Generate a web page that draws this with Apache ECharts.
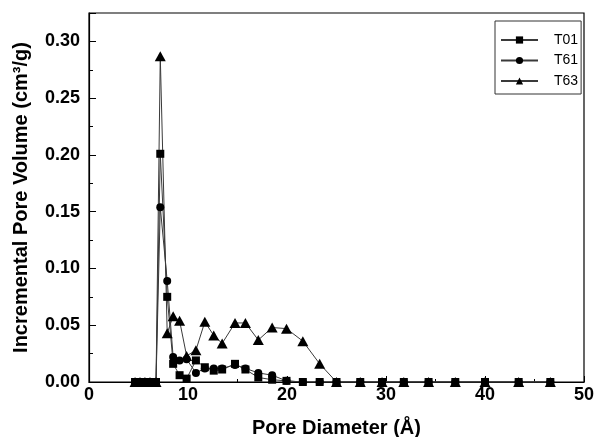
<!DOCTYPE html>
<html>
<head>
<meta charset="utf-8">
<script src="https://cdn.jsdelivr.net/npm/echarts@6/dist/echarts.min.js"></script>
<style>html,body{margin:0;padding:0;background:#fff;}#c{width:596px;height:437px;}</style>
</head>
<body>
<div id="c"></div>
<script>
// Pore diameter (Å) bin centers
const poreDiameter = [4.65, 5.15, 5.65, 6.16, 6.77, 7.2, 7.9, 8.5, 9.15, 9.86, 10.8, 11.7, 12.6, 13.45, 14.75, 15.8, 17.1, 18.5, 19.95, 21.6, 23.3, 25.0, 27.4, 29.6, 31.8, 34.3, 37.0, 40.0, 43.4, 46.6];
// Incremental pore volume (cm3/g)
const t01 = [0, 0, 0, 0, 0, 0.201, 0.075, 0.016, 0.006, 0.003, 0.019, 0.013, 0.010, 0.011, 0.016, 0.011, 0.004, 0.002, 0.001, 0, 0, 0, 0, 0, 0, 0, 0, 0, 0, 0];
const t61 = [0, 0, 0, 0, 0, 0.154, 0.089, 0.022, 0.019, 0.020, 0.008, 0.012, 0.012, 0.012, 0.015, 0.012, 0.008, 0.006, 0.001, 0, 0, 0, 0, 0, 0, 0, 0, 0, 0, 0];
const t63 = [0, 0, 0, 0, 0, 0.287, 0.043, 0.058, 0.054, 0.023, 0.028, 0.053, 0.041, 0.034, 0.052, 0.052, 0.037, 0.048, 0.047, 0.036, 0.016, 0, 0, 0, 0, 0, 0, 0, 0, 0];
const seriesNames = ['T01', 'T61', 'T63'];
const xTicks = [0, 10, 20, 30, 40, 50];
const yTicks = [0.00, 0.05, 0.10, 0.15, 0.20, 0.25, 0.30];

const pair = arr => poreDiameter.map((x, i) => [x, arr[i]]);
const font = '"Liberation Sans", Arial, Helvetica, sans-serif';

const chart = echarts.init(document.getElementById('c'), null, {renderer: 'canvas'});
const mk = (name, data, symbol, size) => ({
  name, type: 'line', data: pair(data), symbol, symbolSize: size,
  showAllSymbol: true,
  lineStyle: {color: '#3a3a3a', width: 1},
  itemStyle: {color: '#000', borderWidth: 0},
  emphasis: {disabled: true},
  animation: false
});
chart.setOption({
  animation: false,
  grid: {left: 89, right: 12, top: 13, bottom: 55, show: true, borderColor: '#000', borderWidth: 1.2,
    containLabel: false, outerBoundsMode: 'none'},
  legend: {
    left: 495, top: 21, orient: 'vertical',
    data: seriesNames,
    itemWidth: 37, itemHeight: 9, itemGap: 6.5,
    padding: [12, 3, 6, 5],
    borderColor: '#333', borderWidth: 1,
    textStyle: {fontFamily: font, fontSize: 14, color: '#000', padding: [0, 0, 0, 11]}
  },
  xAxis: {
    type: 'value', min: 0, max: 50, interval: 10,
    name: 'Pore Diameter (Å)', nameLocation: 'middle', nameGap: 36,
    nameTextStyle: {fontFamily: font, fontSize: 20, fontWeight: 'bold', color: '#000'},
    axisLine: {show: true, onZero: false, lineStyle: {color: '#000', width: 1.2}},
    axisTick: {show: true, inside: true, length: 6, lineStyle: {color: '#000', width: 1}},
    minorTick: {show: true, splitNumber: 2, length: 3, lineStyle: {color: '#000', width: 1}},
    splitLine: {show: false},
    axisLabel: {fontFamily: font, fontSize: 18, fontWeight: 'bold', color: '#000', margin: 4,
      formatter: v => xTicks.includes(v) ? String(v) : ''}
  },
  yAxis: {
    type: 'value', min: 0, max: 0.325, interval: 0.05,
    name: 'Incremental Pore Volume (cm³/g)', nameLocation: 'middle', nameGap: 58,
    nameTextStyle: {fontFamily: font, fontSize: 20, fontWeight: 'bold', color: '#000'},
    axisLine: {show: true, lineStyle: {color: '#000', width: 1.2}},
    axisTick: {show: true, inside: true, length: 7, lineStyle: {color: '#000', width: 1}},
    minorTick: {show: true, splitNumber: 2, length: 4, lineStyle: {color: '#000', width: 1}},
    splitLine: {show: false},
    axisLabel: {fontFamily: font, fontSize: 18, fontWeight: 'bold', color: '#000', margin: 9,
      formatter: v => {
        const m = yTicks.find(t => Math.abs(t - v) < 1e-6);
        return m === undefined ? '' : m.toFixed(2);
      }}
  },
  series: [
    mk('T01', t01, 'rect', 8),
    mk('T61', t61, 'circle', 8),
    mk('T63', t63, 'triangle', [11, 10])
  ]
});
</script>
</body>
</html>
